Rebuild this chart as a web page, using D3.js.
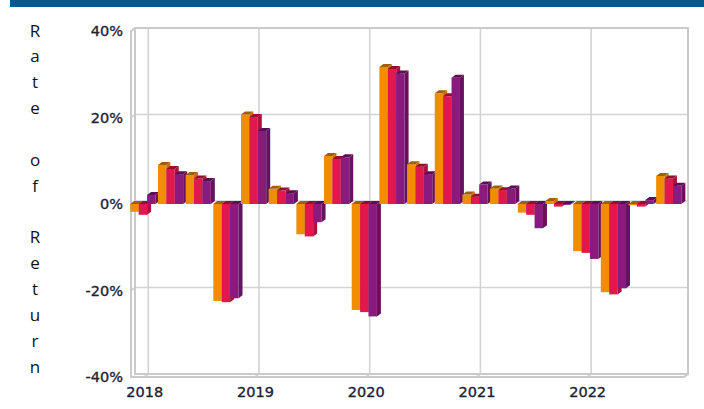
<!DOCTYPE html>
<html>
<head>
<meta charset="utf-8">
<script src="https://cdn.jsdelivr.net/npm/d3@7"></script>
<style>
  body { margin: 0; background: #fff; }
  svg { display: block; }
</style>
</head>
<body>
<div id="chart"></div>
<script>
// Quarter start dates (one group of bars per date)
const quarters = [
  "2018-01", "2018-04", "2018-07", "2018-10",
  "2019-01", "2019-04", "2019-07", "2019-10",
  "2020-01", "2020-04", "2020-07", "2020-10",
  "2021-01", "2021-04", "2021-07", "2021-10",
  "2022-01", "2022-04", "2022-07", "2022-10"
];

// Rates of return (%) per series
const seriesA = [-1.8, 9.0, 6.7, -22.4, 20.7, 3.5, -7.0, 11.1, -24.5, 31.7, 9.2, 25.6, 2.2, 3.6, -2.0, 0.7, -10.9, -20.4, -0.3, 6.5];
const seriesB = [-2.5, 8.1, 5.9, -22.7, 20.1, 3.1, -7.5, 10.4, -25.0, 31.2, 8.6, 24.9, 1.7, 3.2, -2.5, -0.6, -11.3, -20.9, -0.6, 5.9];
const seriesC = [2.1, 6.9, 5.3, -21.8, 16.9, 2.5, -4.2, 10.8, -26.0, 30.2, 6.9, 29.2, 4.5, 3.6, -5.6, -0.2, -12.7, -19.5, 0.9, 4.2];

const yearTicks = [2018, 2019, 2020, 2021, 2022];
const pctTicks = [-0.4, -0.2, 0, 0.2, 0.4];
const axisTitle = "Rate of Return";

const series = [
  { key: "A", values: seriesA, front: "#F28C00", top: "#A05F00", side: "#C26F00" },
  { key: "B", values: seriesB, front: "#E0184C", top: "#960D32", side: "#AE1140" },
  { key: "C", values: seriesC, front: "#8A1A7E", top: "#5A0F52", side: "#68125F" }
];

const W = 704, H = 409;
const depth = { dx: 4, dy: -3 };

const svg = d3.select("#chart")
  .append("svg")
  .attr("width", W)
  .attr("height", H);

// top band
svg.append("rect")
  .attr("x", 10).attr("y", 0)
  .attr("width", W - 10).attr("height", 7)
  .attr("fill", "#035A8D");

// scales (front plane)
const toYear = q => { const [yy, mm] = q.split("-"); return +yy + (+mm - 1) / 12; };

const x = d3.scaleLinear()
  .domain([2017.88, 2022.875])
  .range([131, 684]);

const y = d3.scaleLinear()
  .domain([-0.4, 0.4])
  .range([377, 31]);

const inner = d3.scaleBand()
  .domain(series.map(s => s.key))
  .range([-14, -14 + 3 * 8.4]);

const [x0, x1] = x.range();
const [yB, yT] = y.range();
const gridColor = "#d3d3d3";

// back wall gridlines
const grid = svg.append("g");
pctTicks.filter(v => Math.abs(v) < 0.4).forEach(v => {
  grid.append("polyline")
    .attr("points", `${x0},${y(v)} ${x0 + depth.dx},${y(v) + depth.dy} ${x1 + depth.dx},${y(v) + depth.dy}`)
    .attr("fill", "none").attr("stroke", gridColor).attr("stroke-width", 1.6);
});
yearTicks.forEach(t => {
  grid.append("polyline")
    .attr("points", `${x(t) + depth.dx},${yT + depth.dy} ${x(t) + depth.dx},${yB + depth.dy} ${x(t)},${yB}`)
    .attr("fill", "none").attr("stroke", gridColor).attr("stroke-width", 1.6);
});

// frame
const frame = svg.append("g")
  .attr("fill", "none")
  .attr("stroke", "#cacaca")
  .attr("stroke-width", 2);
frame.append("rect")
  .attr("x", x0 + depth.dx).attr("y", yT + depth.dy)
  .attr("width", x1 - x0).attr("height", yB - yT);
frame.append("polyline")
  .attr("points", `${x0 + depth.dx},${yT + depth.dy} ${x0},${yT} ${x0},${yB} ${x1},${yB} ${x1 + depth.dx},${yB + depth.dy}`);

// bars
const bars = svg.append("g");
quarters.forEach((q, qi) => {
  const cx = x(toYear(q));
  series.forEach(s => {
    const v = s.values[qi] / 100;
    const bx = cx + inner(s.key);
    const bw = inner.bandwidth();
    const top = Math.min(y(v), y(0));
    const bot = Math.max(y(v), y(0));
    const { dx, dy } = depth;
    bars.append("rect")
      .attr("x", bx).attr("y", top)
      .attr("width", bw).attr("height", bot - top)
      .attr("fill", s.front);
    bars.append("polygon")
      .attr("points", `${bx},${top} ${bx + dx},${top + dy} ${bx + bw + dx},${top + dy} ${bx + bw},${top}`)
      .attr("fill", s.top);
    bars.append("polygon")
      .attr("points", `${bx + bw},${top} ${bx + bw + dx},${top + dy} ${bx + bw + dx},${bot + dy} ${bx + bw},${bot}`)
      .attr("fill", s.side);
  });
});

// axes
const yAxis = svg.append("g")
  .attr("transform", `translate(${x0 - 8},0)`)
  .call(d3.axisLeft(y).tickValues(pctTicks).tickFormat(d => Math.round(d * 100) + "%").tickSize(0).tickPadding(0));

const xAxis = svg.append("g")
  .attr("transform", `translate(0,${yB})`)
  .call(d3.axisBottom(x).tickValues(yearTicks).tickFormat(d3.format("d")).tickSize(0).tickPadding(10));

[yAxis, xAxis].forEach(a => {
  a.select(".domain").remove();
  a.selectAll("text")
    .attr("fill", "#1c2236")
    .attr("stroke", "#1c2236")
    .attr("stroke-width", 0.35)
    .style("font-family", "'DejaVu Sans', Verdana, sans-serif")
    .style("font-size", "14.5px");
});

// stacked axis title
svg.append("g")
  .selectAll("text")
  .data(axisTitle.split(""))
  .enter()
  .append("text")
  .attr("x", 35)
  .attr("y", (d, i) => 36.5 + i * 25.85)
  .attr("text-anchor", "middle")
  .attr("fill", "#111")
  .style("font-family", "'Open Sans', sans-serif")
  .style("font-size", "17px")
  .text(d => d);
</script>
</body>
</html>
